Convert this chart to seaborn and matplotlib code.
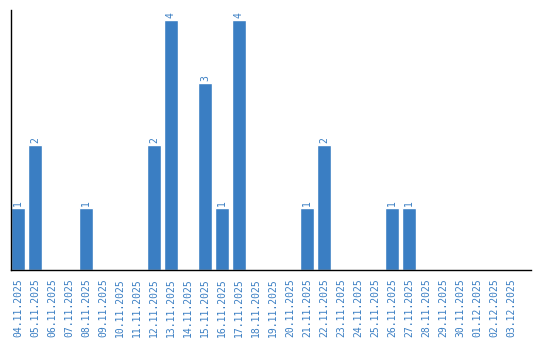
import matplotlib
matplotlib.use("Agg")
import matplotlib.pyplot as plt
import seaborn as sns
import pandas as pd

dates = ["04.11.2025", "05.11.2025", "06.11.2025", "07.11.2025", "08.11.2025",
         "09.11.2025", "10.11.2025", "11.11.2025", "12.11.2025", "13.11.2025",
         "14.11.2025", "15.11.2025", "16.11.2025", "17.11.2025", "18.11.2025",
         "19.11.2025", "20.11.2025", "21.11.2025", "22.11.2025", "23.11.2025",
         "24.11.2025", "25.11.2025", "26.11.2025", "27.11.2025", "28.11.2025",
         "29.11.2025", "30.11.2025", "01.12.2025", "02.12.2025", "03.12.2025"]
counts = [1, 2, 0, 0, 1, 0, 0, 0, 2, 4, 0, 3, 1, 4, 0, 0, 0, 1, 2, 0,
          0, 0, 1, 1, 0, 0, 0, 0, 0, 0]

color = "#3a7ec3"
df = pd.DataFrame({"date": dates, "count": counts})

sns.set_style("white")
fig = plt.figure(figsize=(5.4, 3.4), dpi=100)
ax = fig.add_axes([10.5/540, 70/340, 520.5/540, 260/340])
sns.barplot(data=df, x="date", y="count", color=color, width=0.82,
            saturation=1, ax=ax)
ax.set_xlim(-0.44, 30.18)
ax.set_ylim(0, 4.16)
ax.set_xlabel("")
ax.set_ylabel("")
ax.set_yticks([])
ax.tick_params(axis="x", length=0, pad=6)
for lab in ax.get_xticklabels():
    lab.set_rotation(90)
    lab.set_color(color)
    lab.set_fontfamily("DejaVu Sans Mono")
    lab.set_fontsize(7)
for s in ["top", "right"]:
    ax.spines[s].set_visible(False)
for s in ["left", "bottom"]:
    ax.spines[s].set_color("black")
    ax.spines[s].set_linewidth(1.0)
for i, v in enumerate(counts):
    if v > 0:
        ax.text(i, v + 0.03, str(v), rotation=90, ha="center", va="bottom",
                color=color, fontsize=7, family="DejaVu Sans Mono")
fig.savefig("out.png", dpi=100)
